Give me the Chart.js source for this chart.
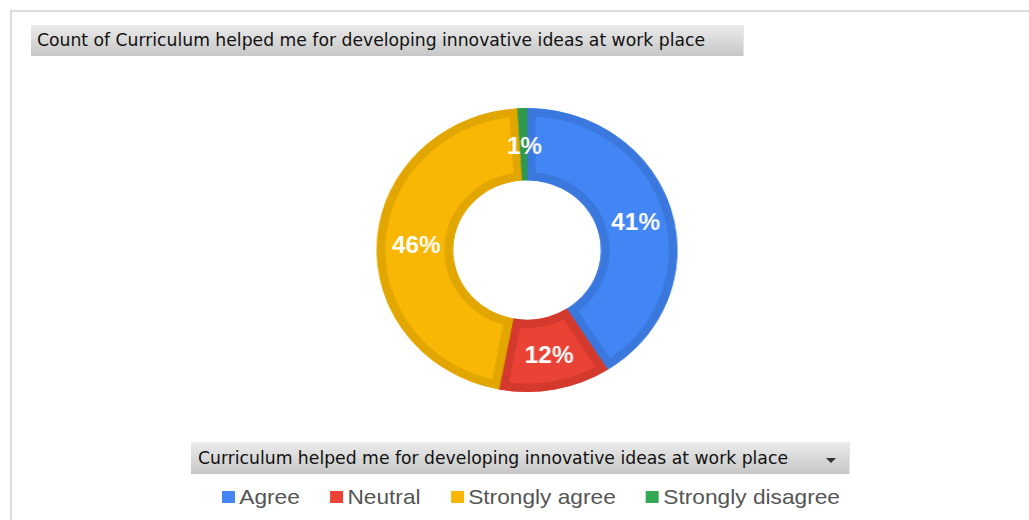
<!DOCTYPE html>
<html>
<head>
<meta charset="utf-8">
<script src="https://cdn.jsdelivr.net/npm/chart.js@4.4.1/dist/chart.umd.min.js"></script>
<style>
  html, body { margin: 0; padding: 0; background: #fff; }
  body { width: 1029px; height: 520px; overflow: hidden; position: relative; }
  #frame { position: absolute; left: 10px; top: 10px; width: 1100px; height: 600px; border: 2px solid #dcdcdc; }
  .gbox { position: absolute; background: linear-gradient(#ececec, #c6c6c6); border-right: 1px solid #e4e4e4; }
  .gtext { position: absolute; white-space: nowrap; font-family: "DejaVu Sans Condensed", "DejaVu Sans", sans-serif; color: #111; transform-origin: left center; }
  #chartWrap { position: absolute; left: 377px; top: 100px; width: 300px; height: 300px; transform: scaleX(1.06); transform-origin: center center; }
  #legendRow { position: absolute; left: 222px; top: 485px; white-space: nowrap; transform-origin: left top; font-family: "Liberation Sans", Arial, sans-serif; font-size: 21px; color: #555; }
  .li { display: inline-block; margin-right: 28px; }
  .li:last-child { margin-right: 0; }
  .sw { display: inline-block; width: 12px; height: 12px; margin-right: 4px; vertical-align: 1px; }
  #tri { position: absolute; left: 826px; top: 458px; width: 0; height: 0; border-left: 5px solid transparent; border-right: 5px solid transparent; border-top: 5px solid #333; }
</style>
</head>
<body>
<div id="frame"></div>
<div class="gbox" style="left:31px;top:25px;width:712px;height:31px;"></div>
<span class="gtext" id="titleText" style="left:37px;top:29px;font-size:18px;"></span>
<div class="gbox" style="left:191px;top:442px;width:658px;height:32px;"></div>
<span class="gtext" id="legendTitle" style="left:198px;top:447px;font-size:18px;"></span>
<div id="tri"></div>
<div id="chartWrap"><canvas id="c"></canvas></div>
<div id="legendRow"></div>
<script>
// ---- data ----
const categories = ['Agree', 'Neutral', 'Strongly agree', 'Strongly disagree'];
const values = [41, 12, 46, 1];
const fillColors = ['#4285F4', '#EA4335', '#F8B704', '#34A853'];
const rimColors = ['#3B78DE', '#D4392D', '#E2A600', '#2F9A4B'];
const chartTitle = 'Count of Curriculum helped me for developing innovative ideas at work place';
const legendTitleText = 'Curriculum helped me for developing innovative ideas at work place';

// ---- texts ----
document.getElementById('titleText').textContent = chartTitle;
document.getElementById('legendTitle').textContent = legendTitleText;
const row = document.getElementById('legendRow');
categories.forEach((c, i) => {
  const item = document.createElement('span');
  item.className = 'li';
  const sw = document.createElement('span');
  sw.className = 'sw';
  sw.style.background = fillColors[i];
  item.appendChild(sw);
  item.appendChild(document.createTextNode(c));
  row.appendChild(item);
});

function fit(id, target) {
  const el = document.getElementById(id);
  el.style.transform = 'none';
  const w = el.getBoundingClientRect().width;
  el.style.transform = 'scaleX(' + (target / w) + ')';
}
function fitAll() {
  fit('titleText', 668);
  fit('legendTitle', 590);
  fit('legendRow', 618);
}
fitAll();
if (document.fonts && document.fonts.ready) document.fonts.ready.then(fitAll);

// ---- chart ----
const total = values.reduce((a, b) => a + b, 0);
const pctLabels = {
  id: 'pctLabels',
  afterDatasetsDraw(chart) {
    const ctx = chart.ctx;
    const meta = chart.getDatasetMeta(0);
    ctx.save();
    ctx.font = 'bold 23px "Liberation Sans", Arial, sans-serif';
    ctx.fillStyle = '#ffffff';
    ctx.textAlign = 'center';
    ctx.textBaseline = 'middle';
    meta.data.forEach((arc, i) => {
      const p = arc.tooltipPosition();
      const v = chart.data.datasets[0].data[i];
      ctx.fillText(Math.round(v / total * 100) + '%', p.x + 1, p.y + 3);
    });
    ctx.restore();
  }
};

new Chart(document.getElementById('c'), {
  type: 'doughnut',
  data: {
    labels: categories,
    datasets: [{
      data: values,
      backgroundColor: fillColors,
      borderColor: rimColors,
      borderWidth: 8,
      borderAlign: 'inner'
    }]
  },
  options: {
    responsive: true,
    maintainAspectRatio: false,
    animation: false,
    cutout: '49%',
    layout: { padding: 8 },
    plugins: {
      legend: { display: false },
      tooltip: { enabled: false },
      title: { display: false }
    }
  },
  plugins: [pctLabels]
});
</script>
</body>
</html>
